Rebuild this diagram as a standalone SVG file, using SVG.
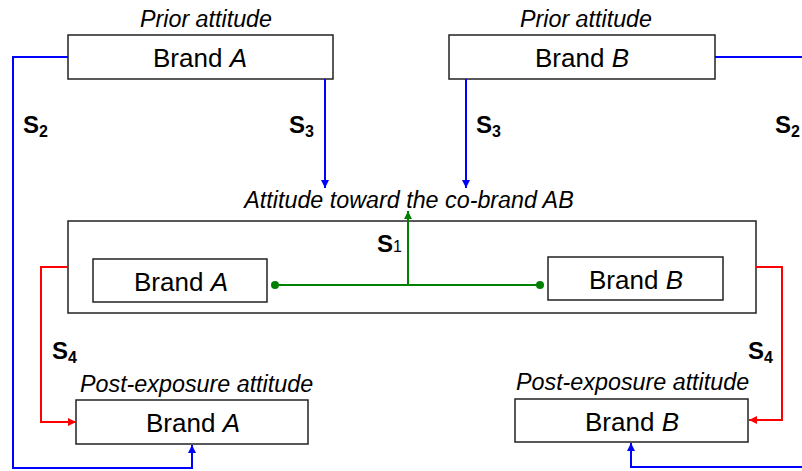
<svg xmlns="http://www.w3.org/2000/svg" width="802" height="471" viewBox="0 0 802 471">
<defs>
<style>
.box{fill:#fff;stroke:#222;stroke-width:1.5}
.lbl{font-family:"Liberation Sans",Arial,sans-serif;font-size:26px;fill:#000;text-anchor:middle}
.cap{font-family:"Liberation Sans",Arial,sans-serif;font-size:23.3px;font-style:italic;fill:#000}
.s{font-family:"Liberation Sans",Arial,sans-serif;font-size:24px;font-weight:bold;fill:#000}
.sub{font-size:16px}
.blue{fill:none;stroke:#0000ff;stroke-width:2}
.red{fill:none;stroke:#ff0000;stroke-width:2}
.green{fill:none;stroke:#008000;stroke-width:2}
</style>
<marker id="ab" viewBox="0 0 10 10" refX="10" refY="5" markerWidth="8" markerHeight="8" orient="auto" markerUnits="userSpaceOnUse"><path d="M0,0L10,5L0,10z" fill="#0000ff"/></marker>
<marker id="ar" viewBox="0 0 10 10" refX="10" refY="5" markerWidth="8" markerHeight="8" orient="auto" markerUnits="userSpaceOnUse"><path d="M0,0L10,5L0,10z" fill="#ff0000"/></marker>
<marker id="ag" viewBox="0 0 10 10" refX="10" refY="5" markerWidth="8" markerHeight="8" orient="auto" markerUnits="userSpaceOnUse"><path d="M0,0L10,5L0,10z" fill="#008000"/></marker>
</defs>
<rect width="802" height="471" fill="#fff"/>

<g id="priorA">
<text class="cap" x="206" y="27" text-anchor="middle">Prior attitude</text>
<rect class="box" x="68" y="35" width="265" height="44"/>
<text class="lbl" x="200" y="67">Brand <tspan font-style="italic">A</tspan></text>
</g>
<g id="priorB">
<text class="cap" x="586" y="27" text-anchor="middle">Prior attitude</text>
<rect class="box" x="449" y="35" width="266" height="44"/>
<text class="lbl" x="582" y="67">Brand <tspan font-style="italic">B</tspan></text>
</g>
<g id="cobrand">
<text class="cap" x="409" y="208" text-anchor="middle">Attitude toward the co-brand AB</text>
<rect class="box" x="68" y="221" width="688" height="92"/>
</g>
<g id="innerA">
<rect class="box" x="93" y="259" width="174" height="43"/>
<text class="lbl" x="181" y="291">Brand <tspan font-style="italic">A</tspan></text>
</g>
<g id="innerB">
<rect class="box" x="548" y="257" width="175" height="43"/>
<text class="lbl" x="636" y="289">Brand <tspan font-style="italic">B</tspan></text>
</g>
<g id="postA">
<text class="cap" x="80" y="392">Post-exposure attitude</text>
<rect class="box" x="76" y="400" width="232" height="44"/>
<text class="lbl" x="193" y="432">Brand <tspan font-style="italic">A</tspan></text>
</g>
<g id="postB">
<text class="cap" x="516" y="390">Post-exposure attitude</text>
<rect class="box" x="515" y="399" width="233" height="43"/>
<text class="lbl" x="632" y="431">Brand <tspan font-style="italic">B</tspan></text>
</g>

<g id="connectors">
<polyline class="blue" points="68,57 13,57 13,468 192,468 192,445" marker-end="url(#ab)"/>
<polyline class="blue" points="715,57 802,57"/>
<polyline class="blue" points="802,467 631,467 631,443" marker-end="url(#ab)"/>
<line class="blue" x1="325" y1="79" x2="325" y2="188" marker-end="url(#ab)"/>
<line class="blue" x1="466" y1="79" x2="466" y2="188" marker-end="url(#ab)"/>
<polyline class="red" points="68,267 41,267 41,422 76,422" marker-end="url(#ar)"/>
<polyline class="red" points="756,267 782,267 782,420 749,420" marker-end="url(#ar)"/>
<line class="green" x1="275" y1="285" x2="540" y2="285"/>
<circle cx="275" cy="285" r="4" fill="#008000"/>
<circle cx="540" cy="285" r="4" fill="#008000"/>
<line class="green" x1="408" y1="285" x2="408" y2="211" marker-end="url(#ag)"/>
<text class="s" x="23" y="133">S<tspan class="sub" dy="4">2</tspan></text>
<text class="s" x="289" y="133">S<tspan class="sub" dy="4">3</tspan></text>
<text class="s" x="476" y="133">S<tspan class="sub" dy="4">3</tspan></text>
<text class="s" x="775" y="133">S<tspan class="sub" dy="4">2</tspan></text>
<text class="s" x="377" y="252">S<tspan class="sub" style="font-weight:normal">1</tspan></text>
<text class="s" x="52" y="359">S<tspan class="sub" dy="4">4</tspan></text>
<text class="s" x="748" y="359">S<tspan class="sub" dy="4">4</tspan></text>
</g>
</svg>
